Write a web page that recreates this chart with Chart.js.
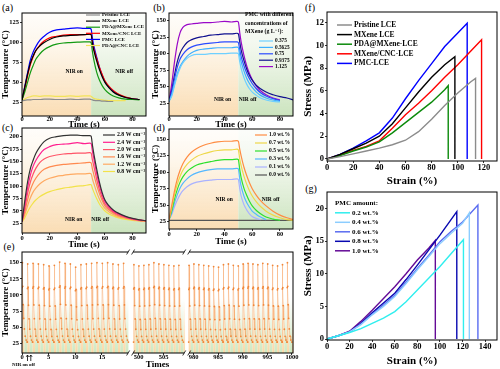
<!DOCTYPE html>
<html>
<head>
<meta charset="utf-8">
<script src="https://cdn.jsdelivr.net/npm/chart.js@4.4.0/dist/chart.umd.min.js"></script>
<style>
  body { margin: 0; background: #fff; width: 500px; height: 369px; position: relative; overflow: hidden; }
  canvas { position: absolute; }
  .pl { position: absolute; font: 10px "Liberation Serif", serif; color: #000; transform: translate(-50%, -50%); white-space: nowrap; }
</style>
</head>
<body>
<div class="pl" style="left:7.5px;top:6.5px">(a)</div>
<div class="pl" style="left:159px;top:6.5px">(b)</div>
<div class="pl" style="left:7.5px;top:127px">(c)</div>
<div class="pl" style="left:159px;top:127px">(d)</div>
<div class="pl" style="left:9px;top:246px">(e)</div>
<div class="pl" style="left:310px;top:7px">(f)</div>
<div class="pl" style="left:311px;top:188px">(g)</div>
<canvas id="cA"></canvas>
<canvas id="cB"></canvas>
<canvas id="cC"></canvas>
<canvas id="cD"></canvas>
<canvas id="cE"></canvas>
<canvas id="cF"></canvas>
<canvas id="cG"></canvas>
<script>
// ---- (a) temperature vs time, different films
var tA = [0, 2, 4, 6, 8, 10, 13, 16, 20, 25, 30, 35, 40, 45, 49, 50, 51, 52, 54, 56, 58, 60, 63, 66, 70, 75, 80, 85];
var aPristine = [27, 27.5, 28, 28, 28.5, 28.5, 28.5, 29, 29, 28.5, 28.5, 29, 28.5, 29, 29, 28.5, 28, 27.5, 27, 27, 26.5, 26.5, 26, 26];
var aMXene = [28, 44, 60, 74, 83, 90, 96, 100, 104, 107, 108.5, 109, 109.5, 110, 110.5, 110, 98, 90, 77, 66, 57, 50, 43, 38, 34, 31, 29.5, 28.5];
var aPdaMx = [28, 38, 50, 62, 71, 79, 86, 91, 95, 98, 99.5, 100, 100.5, 101, 101, 100, 88, 78, 63, 53, 46, 41, 36, 33, 30.5, 29, 28.5, 28];
var aMxCnc = [28, 42, 58, 72, 82, 90, 97, 102, 106, 108, 109.5, 110, 110, 110, 110.5, 110, 100, 92, 80, 69, 60, 52, 45, 40, 35, 31.5, 29.5, 28.5];
var aPMC = [28, 45, 62, 78, 88, 95, 103, 108, 113, 116, 117, 118, 118.5, 118, 118, 117, 105, 96, 82, 69, 59, 51, 44, 39, 34.5, 31, 29.5, 28.5];
var aPdaCnc = [27, 29, 31, 32, 33, 33, 32.5, 33, 33, 32.5, 32.5, 33, 32.5, 33, 33, 32.5, 31, 30, 29, 28.5, 28, 27.5, 27, 27, 27, 27];

// ---- (b) MXene concentration series
var tB = [0, 2, 4, 6, 8, 10, 13, 16, 20, 25, 30, 35, 40, 45, 49, 50, 51, 52, 54, 56, 58, 60, 63, 66, 70, 75, 80, 85, 90];
var b0375 = [28, 36, 52, 67, 78, 86, 93, 97, 99, 99, 100, 100, 100, 101, 101, 100, 88, 78, 64, 54, 47, 42, 37, 33, 30, 28, 27];
var b05625 = [28, 38, 55, 70, 81, 88, 96, 101, 105, 107, 108, 109, 109, 109, 110, 109, 97, 88, 74, 63, 55, 49, 42, 37, 33, 30, 28];
var b075 = [28, 42, 62, 80, 92, 99, 106, 110, 113, 115, 116, 117, 118, 118, 118, 117, 106, 96, 82, 71, 62, 55, 47, 41, 36, 32, 29];
var b09375 = [28, 45, 68, 88, 101, 109, 117, 121, 124, 126, 128, 129, 130, 130, 131, 130, 118, 106, 90, 77, 67, 60, 52, 47, 42, 38, 35, 33, 30];
var b1125 = [28, 55, 88, 115, 132, 140, 144, 145, 146, 147, 147, 148, 149, 148, 149, 148, 132, 118, 98, 82, 70, 61, 51, 44, 38, 33, 30];

// ---- (c) power density series
var tC = tB;
var c28 = [28, 70, 108, 135, 152, 166, 180, 190, 197, 200, 202, 203, 203, 202, 202, 201, 182, 165, 135, 108, 87, 72, 60, 52, 45, 39, 35, 32, 30];
var c24 = [28, 62, 96, 122, 140, 152, 165, 174, 180, 184, 185, 186, 188, 186, 187, 186, 170, 155, 126, 102, 83, 69, 58, 50, 44, 38, 34, 32, 30];
var c20 = [28, 55, 85, 108, 124, 136, 148, 155, 160, 163, 165, 166, 167, 167, 168, 167, 152, 140, 114, 93, 77, 64, 55, 48, 42, 37, 34, 31, 30];
var c16 = [28, 48, 72, 92, 106, 116, 127, 134, 139, 142, 144, 145, 146, 147, 148, 147, 134, 123, 102, 85, 71, 60, 52, 46, 40, 36, 33, 31, 30];
var c12 = [28, 42, 60, 76, 88, 96, 105, 111, 116, 120, 122, 124, 125, 125, 126, 125, 114, 105, 88, 74, 63, 55, 48, 43, 38, 35, 32, 30, 29];
var c08 = [28, 36, 48, 58, 66, 72, 79, 84, 89, 93, 96, 98, 100, 101, 103, 103, 95, 88, 75, 64, 56, 50, 44, 40, 36, 33, 31, 30, 29];

// ---- (d) PMC content series
var tD = tB;
var d10 = [28, 50, 72, 90, 103, 113, 123, 130, 136, 141, 144, 146, 147, 147, 148, 147, 135, 125, 108, 95, 84, 75, 65, 57, 49, 41, 35, 31, 28];
var d07 = [28, 46, 66, 82, 94, 103, 112, 118, 124, 128, 131, 133, 134, 134, 135, 134, 120, 110, 94, 82, 72, 64, 55, 48, 41, 35, 31, 28, 27];
var d05 = [28, 42, 60, 74, 85, 93, 101, 106, 111, 114, 116, 118, 119, 119, 120, 119, 104, 92, 76, 65, 56, 49, 42, 37, 32, 29, 27];
var d03 = [28, 39, 54, 66, 76, 83, 90, 95, 99, 102, 104, 105, 105, 105, 106, 105, 90, 79, 64, 54, 47, 41, 36, 32, 28];
var d01 = [28, 36, 48, 58, 66, 72, 78, 82, 85, 87, 88, 89, 89, 89, 90, 89, 75, 64, 51, 43, 37, 33, 30, 28];
var d00 = [27, 27, 27, 27, 27, 27, 27, 27, 27, 27, 27, 27, 27, 27, 27, 27, 27, 27, 27, 27, 27, 27, 27, 27, 27, 27, 27, 27, 27];

// ---- (e) cycling: peak temperature of every cycle, and one cycle's profile
var eSeg1First = 0;
var eSeg1Peaks = [150, 148, 149, 148, 147, 145, 146, 151, 149, 148, 143, 147, 148, 149, 150, 149, 150, 148, 147, 149];
var eSeg2First = 499;
var eSeg2Peaks = [147, 145, 146, 147, 150, 148, 147, 146, 145, 146];
var eSeg3First = 979;
var eSeg3Peaks = [146, 148, 147, 146, 145, 144, 143, 147, 148, 146, 145, 148, 149, 148, 147, 149, 148, 146, 145, 147, 150];
var cycleFrac = [0, 0.03, 0.07, 0.14, 0.22, 0.32, 0.45, 0.6, 0.78, 0.97];
var cycleShape = [27, 110, 148, 112, 84, 63, 47, 36, 30, 27];
var eTicks = [0, 5, 10, 15, 500, 505, 980, 985, 990, 995, 1000];

// ---- (f) stress-strain, different films
var fPristineX = [0, 10, 20, 30, 40, 50, 60, 70, 80, 90, 100, 110, 113.6, 113.6];
var fPristineY = [0, 0.2, 0.45, 0.7, 0.95, 1.25, 1.65, 2.4, 3.5, 4.7, 5.8, 6.8, 7.1, 0];
var fMXeneX = [0, 10, 20, 30, 40, 50, 60, 70, 80, 90, 97.8, 97.8];
var fMXeneY = [0, 0.4, 0.9, 1.4, 2.0, 3.1, 4.5, 5.9, 7.2, 8.3, 9.0, 0];
var fPdaMxX = [0, 10, 20, 30, 40, 50, 60, 70, 80, 90, 92.7, 92.7];
var fPdaMxY = [0, 0.3, 0.7, 1.05, 1.5, 2.3, 3.2, 4.1, 5.0, 6.1, 6.45, 0];
var fMxCncX = [0, 10, 20, 30, 40, 50, 60, 70, 80, 90, 100, 110, 118.2, 118.2];
var fMxCncY = [0, 0.35, 0.75, 1.1, 1.6, 2.7, 3.9, 4.9, 6.0, 7.2, 8.3, 9.5, 10.5, 0];
var fPMCX = [0, 10, 20, 30, 40, 50, 60, 70, 80, 90, 100, 107.2, 107.2];
var fPMCY = [0, 0.4, 0.95, 1.6, 2.3, 3.6, 5.3, 6.9, 8.4, 9.9, 11.1, 11.95, 0];

// ---- (g) stress-strain, PMC amount
var g02X = [0, 10, 20, 30, 40, 50, 60, 70, 80, 90, 100, 110, 120.8, 120.8];
var g02Y = [0, 0.5, 1.0, 1.6, 2.4, 3.2, 4.2, 5.7, 7.5, 9.3, 11.1, 13.1, 15.2, 0];
var g04X = [0, 10, 20, 30, 40, 50, 60, 70, 80, 90, 100, 110, 120, 126, 126];
var g04Y = [0, 0.5, 1.1, 2.2, 3.7, 5.0, 6.5, 8.5, 10.6, 12.6, 14.6, 16.2, 17.7, 19.3, 0];
var g06X = [0, 10, 20, 30, 40, 50, 60, 70, 80, 90, 100, 110, 120, 133.6, 133.6];
var g06Y = [0, 0.5, 1.1, 2.3, 3.8, 5.2, 6.7, 8.7, 10.8, 12.8, 14.9, 16.5, 17.9, 20.5, 0];
var g08X = [0, 10, 20, 30, 40, 50, 60, 70, 80, 90, 100, 114.9, 114.9];
var g08Y = [0, 0.5, 1.1, 2.4, 4.0, 5.5, 7.0, 9.1, 11.3, 13.6, 15.9, 19.5, 0];
var g10X = [0, 10, 20, 30, 40, 50, 60, 70, 80, 90, 95.9, 95.9];
var g10Y = [0, 0.5, 1.2, 2.7, 4.4, 6.2, 8.0, 10.0, 12.1, 13.9, 15.1, 0];

var tempTicks = [25, 50, 75, 100, 125, 150];
var timeTicks = [0, 20, 40, 60, 80];

var SERIF = '"Liberation Serif", "DejaVu Serif", serif';

function zip(xs, ys) {
  var out = [];
  for (var i = 0; i < ys.length && i < xs.length; i++) out.push({ x: xs[i], y: ys[i] });
  return out;
}

function curve(label, xs, ys, color, w, smooth) {
  return {
    label: label, data: zip(xs, ys), borderColor: color, borderWidth: w || 1,
    pointRadius: 0, fill: false, cubicInterpolationMode: smooth ? 'monotone' : 'default', tension: 0
  };
}

// cycles on the broken axis: each segment maps cycle number -> axis position
var eSegs = [
  { first: eSeg1First, peaks: eSeg1Peaks, c0: 0, c1: 19.97, cRef: 0, vRef: 0, k: 1.045 },
  { first: eSeg2First, peaks: eSeg2Peaks, c0: 498.8, c1: 509.3, cRef: 500, vRef: 22.86, k: 0.98 },
  { first: eSeg3First, peaks: eSeg3Peaks, c0: 978.9, c1: 1000.3, cRef: 980, vRef: 33.65, k: 0.9645 }
];
function segPos(s, c) { return s.vRef + (c - s.cRef) * s.k; }
function eTickPos(c) {
  for (var i = 0; i < eSegs.length; i++) if (c >= eSegs[i].c0 && c <= eSegs[i].c1) return segPos(eSegs[i], c);
  return 0;
}
function cycleSeries(s) {
  var pts = [];
  s.peaks.forEach(function (pk, n) {
    cycleFrac.forEach(function (f, j) {
      var c = s.first + n + f;
      if (c < s.c0 || c > s.c1) return;
      pts.push({ x: segPos(s, c), y: 27 + (cycleShape[j] - 27) * (pk - 27) / (148 - 27) });
    });
  });
  return pts;
}

// per-canvas decorations: backgrounds, frame, legends, notes
var deco = {};

function gradRect(ctx, x0, x1, top, bottom, stops) {
  var g = ctx.createLinearGradient(0, top, 0, bottom);
  stops.forEach(function (s) { g.addColorStop(s[0], s[1]); });
  ctx.fillStyle = g;
  ctx.fillRect(x0, top, x1 - x0, bottom - top);
}
var ORANGE = [[0, 'rgba(255,250,243,0.4)'], [0.5, 'rgba(252,236,212,0.8)'], [1, 'rgba(250,219,176,0.95)']];
var GREEN = [[0, 'rgba(246,250,243,0.4)'], [0.5, 'rgba(228,240,220,0.8)'], [1, 'rgba(200,226,186,0.95)']];

Chart.register({
  id: 'deco',
  beforeDatasetsDraw: function (chart) {
    var o = deco[chart.canvas.id];
    if (!o) return;
    var ctx = chart.ctx, a = chart.chartArea, xs = chart.scales.x, ys = chart.scales.y;
    ctx.save();
    if (o.nir) {
      var xm = xs.getPixelForValue(o.nir);
      gradRect(ctx, a.left, xm, a.top, a.bottom, ORANGE);
      gradRect(ctx, xm, a.right, a.top, a.bottom, GREEN);
    }
    if (o.cycles) {
      var top = ys.getPixelForValue(95);
      eSegs.forEach(function (s) {
        var lo = xs.getPixelForValue(segPos(s, s.c0)), hi = xs.getPixelForValue(segPos(s, s.c1));
        for (var c = Math.floor(s.c0); c < s.c1; c++) {
          var p0 = Math.max(lo, xs.getPixelForValue(segPos(s, c)));
          var p1 = Math.min(hi, xs.getPixelForValue(segPos(s, c + 0.45)));
          var p2 = Math.min(hi, xs.getPixelForValue(segPos(s, c + 1)));
          if (p1 > p0) gradRect(ctx, p0, p1, top, a.bottom, [[0, 'rgba(252,214,160,0)'], [1, 'rgba(250,208,150,0.85)']]);
          if (p2 > p1 && p1 >= lo) gradRect(ctx, p1, p2, top, a.bottom, [[0, 'rgba(205,232,192,0)'], [1, 'rgba(196,228,182,0.85)']]);
        }
      });
    }
    ctx.restore();
  },
  afterDraw: function (chart) {
    var o = deco[chart.canvas.id];
    if (!o) return;
    var ctx = chart.ctx, a = chart.chartArea, xs = chart.scales.x, ys = chart.scales.y;
    var ox = o.off[0], oy = o.off[1];
    ctx.save();
    ctx.strokeStyle = '#000';
    ctx.lineWidth = 1;
    ctx.strokeRect(a.left, a.top, a.right - a.left, a.bottom - a.top);
    if (o.breaks) {
      o.breaks.forEach(function (v) {
        var x = xs.getPixelForValue(v);
        [a.top, a.bottom].forEach(function (y) {
          ctx.fillStyle = '#fff';
          ctx.fillRect(x - 2.5, y - 1.5, 5, 3);
          ctx.beginPath();
          ctx.moveTo(x - 4, y + 2.5); ctx.lineTo(x - 1, y - 2.5);
          ctx.moveTo(x + 1, y + 2.5); ctx.lineTo(x + 4, y - 2.5);
          ctx.lineWidth = 0.8; ctx.stroke();
        });
      });
    }
    ctx.fillStyle = '#000';
    ctx.textBaseline = 'middle';
    if (o.notes) {
      o.notes.forEach(function (n) {
        ctx.font = 'bold ' + n.size + 'px ' + SERIF;
        ctx.textAlign = 'center';
        ctx.fillText(n.text, xs.getPixelForValue(n.x), ys.getPixelForValue(n.y));
      });
    }
    var lg = o.legend;
    if (lg) {
      ctx.textAlign = 'left';
      if (lg.title) {
        ctx.font = 'bold ' + lg.tsize + 'px ' + SERIF;
        lg.title.forEach(function (t, i) { ctx.fillText(t, lg.tx - ox, lg.ty + i * lg.tdy - oy); });
      }
      ctx.font = 'bold ' + lg.size + 'px ' + SERIF;
      chart.data.datasets.forEach(function (d, i) {
        var y = lg.y + i * lg.dy - oy;
        ctx.strokeStyle = d.borderColor;
        ctx.lineWidth = lg.lw;
        ctx.beginPath(); ctx.moveTo(lg.x - ox, y); ctx.lineTo(lg.x + lg.len - ox, y); ctx.stroke();
        ctx.fillText(d.label, lg.x + lg.len + 2 - ox, y);
      });
    }
    if (o.arrows) {
      ctx.strokeStyle = '#000'; ctx.lineWidth = 0.8;
      o.arrows.forEach(function (x) {
        var px = x - ox, y0 = 361 - oy, y1 = 355 - oy;
        ctx.beginPath();
        ctx.moveTo(px, y0); ctx.lineTo(px, y1);
        ctx.moveTo(px - 1.3, y1 + 1.8); ctx.lineTo(px, y1); ctx.lineTo(px + 1.3, y1 + 1.8);
        ctx.stroke();
      });
      ctx.font = 'bold 5px ' + SERIF;
      ctx.textAlign = 'center';
      ctx.fillText('NIR on off', 23.5 - ox, 364.5 - oy);
    }
    ctx.restore();
  }
});

// area = chart area in page pixels [left, top, right, bottom]; m = room for axes
function makeChart(id, area, m, cfg) {
  var cv = document.getElementById(id);
  var L = area[0] - m.yw, T = area[1] - m.pt;
  var W = area[2] - area[0] + m.yw + m.pr, H = area[3] - area[1] + m.pt + m.xh;
  cv.width = W; cv.height = H;
  cv.style.left = L + 'px'; cv.style.top = T + 'px';
  cv.style.width = W + 'px'; cv.style.height = H + 'px';
  cfg.deco.off = [L, T];
  deco[id] = cfg.deco;
  var tickFont = { family: SERIF, size: cfg.tickSize, weight: 'bold', lineHeight: 1 };
  var titleFont = { family: SERIF, size: cfg.titleSize, weight: 'bold', lineHeight: 1 };
  var grid = { drawOnChartArea: false, drawTicks: true, tickLength: 2, color: '#000', lineWidth: 0.8 };
  function axis(range, ticks, labels, title, side) {
    return {
      type: 'linear', min: range[0], max: range[1],
      afterFit: function (s) { if (side === 'x') s.height = m.xh; else s.width = m.yw; },
      afterBuildTicks: function (s) { s.ticks = ticks.map(function (v) { return { value: v }; }); },
      ticks: {
        autoSkip: false, maxRotation: 0, padding: side === 'x' ? m.xpad : 1, color: '#000', font: tickFont,
        callback: function (v, i) { return labels[i]; }
      },
      grid: grid,
      border: { display: false },
      title: { display: true, text: title, color: '#000', font: titleFont, padding: 0 }
    };
  }
  return new Chart(cv, {
    type: 'line',
    data: { datasets: cfg.datasets },
    options: {
      responsive: false, animation: false, devicePixelRatio: 1,
      layout: { padding: { left: 0, top: m.pt, right: m.pr, bottom: 0 } },
      plugins: { legend: { display: false }, tooltip: { enabled: false } },
      scales: {
        x: axis(cfg.x, cfg.xTicks, cfg.xLabels || cfg.xTicks.map(String), cfg.xTitle, 'x'),
        y: axis(cfg.y, cfg.yTicks, cfg.yTicks.map(String), cfg.yTitle, 'y')
      }
    }
  });
}

var TEMP = 'Temperature (\u00B0C)';

makeChart('cA', [22, 13, 146, 116], { yw: 21, pt: 8, pr: 8, xh: 13, xpad: -1.5 }, {
  x: [0, 89.7], xTicks: timeTicks, y: [7.8, 137.2], yTicks: [25, 50, 75, 100, 125],
  xTitle: 'Time (s)', yTitle: TEMP, tickSize: 6.5, titleSize: 9,
  datasets: [
    curve('Pristine LCE', tA, aPristine, '#8c8c8c', 1.2, true),
    curve('MXene LCE', tA, aMXene, '#000000', 1.2, true),
    curve('PDA@MXene LCE', tA, aPdaMx, '#139a13', 1.2, true),
    curve('MXene/CNC LCE', tA, aMxCnc, '#ff0000', 1.2, true),
    curve('PMC LCE', tA, aPMC, '#0000ff', 1.2, true),
    curve('PDA@CNC LCE', tA, aPdaCnc, '#f2e35a', 1.2, true)
  ],
  deco: {
    nir: 50,
    notes: [{ text: 'NIR on', x: 37.8, y: 63, size: 5.5 }, { text: 'NIR off', x: 73.9, y: 63, size: 5.5 }],
    legend: { x: 86, len: 14, y: 15, dy: 6.1, size: 5, lw: 1.2 }
  }
});

makeChart('cB', [169, 13, 293, 116], { yw: 18, pt: 8, pr: 8, xh: 13, xpad: -1.5 }, {
  x: [0, 89.4], xTicks: timeTicks, y: [5.8, 161.6], yTicks: tempTicks,
  xTitle: 'Time (s)', yTitle: TEMP, tickSize: 6.5, titleSize: 9,
  datasets: [
    curve('0.375', tB, b0375, '#6fd0ff', 1.2, true),
    curve('0.5625', tB, b05625, '#3fb0ff', 1.2, true),
    curve('0.75', tB, b075, '#2a4bff', 1.2, true),
    curve('0.9375', tB, b09375, '#10108f', 1.2, true),
    curve('1.125', tB, b1125, '#9a08c8', 1.2, true)
  ],
  deco: {
    nir: 50,
    notes: [{ text: 'NIR on', x: 38.6, y: 30, size: 5.5 }, { text: 'NIR off', x: 56.7, y: 30, size: 5.5 }],
    legend: {
      title: ['PMC with different', 'concentrations of', 'MXene (g L\u207B\u00B9):'], tx: 245, ty: 15, tdy: 8.3, tsize: 5.8,
      x: 259, len: 14, y: 41, dy: 6.4, size: 5.3, lw: 1.2
    }
  }
});

makeChart('cC', [22, 128, 146, 233], { yw: 21, pt: 8, pr: 8, xh: 16, xpad: 0 }, {
  x: [0, 89.7], xTicks: timeTicks, y: [5.4, 217.6], yTicks: [25, 50, 75, 100, 125, 150, 175, 200],
  xTitle: 'Time (s)', yTitle: TEMP, tickSize: 6.5, titleSize: 9,
  datasets: [
    curve('2.8 W cm\u207B\u00B2', tC, c28, '#333333', 1.2, true),
    curve('2.4 W cm\u207B\u00B2', tC, c24, '#ff1f8f', 1.2, true),
    curve('2.0 W cm\u207B\u00B2', tC, c20, '#ff5468', 1.2, true),
    curve('1.6 W cm\u207B\u00B2', tC, c16, '#ff8a50', 1.2, true),
    curve('1.2 W cm\u207B\u00B2', tC, c12, '#ffaa62', 1.2, true),
    curve('0.8 W cm\u207B\u00B2', tC, c08, '#f2e24a', 1.2, true)
  ],
  deco: {
    nir: 50,
    notes: [{ text: 'NIR on', x: 37.4, y: 31.7, size: 5.5 }, { text: 'NIR off', x: 56.5, y: 31.7, size: 5.5 }],
    legend: { x: 103, len: 12, y: 135, dy: 7.3, size: 5.8, lw: 1.2 }
  }
});

makeChart('cD', [169, 129, 293, 229], { yw: 18, pt: 8, pr: 8, xh: 17, xpad: 0 }, {
  x: [0, 89.4], xTicks: timeTicks, y: [13.9, 165.6], yTicks: tempTicks,
  xTitle: 'Time (s)', yTitle: TEMP, tickSize: 6.5, titleSize: 9,
  datasets: [
    curve('1.0 wt.%', tD, d10, '#ff8c42', 1.2, true),
    curve('0.7 wt.%', tD, d07, '#eed84a', 1.2, true),
    curve('0.5 wt.%', tD, d05, '#2ee02e', 1.2, true),
    curve('0.3 wt.%', tD, d03, '#55b8ff', 1.2, true),
    curve('0.1 wt.%', tD, d01, '#aab2ff', 1.2, true),
    curve('0.0 wt.%', tD, d00, '#555555', 1.2, true)
  ],
  deco: {
    nir: 50,
    notes: [{ text: 'NIR on', x: 39.7, y: 58, size: 5.5 }, { text: 'NIR off', x: 73.3, y: 58, size: 5.5 }],
    legend: { x: 255, len: 12, y: 135, dy: 8, size: 5.5, lw: 1.2 }
  }
});

var eSets = eSegs.map(function (s) {
  return {
    data: cycleSeries(s), borderColor: 'rgba(244,150,80,0.55)', borderWidth: 0.7,
    pointRadius: 0.9, pointBorderWidth: 0, pointBackgroundColor: '#f0873a', fill: false, tension: 0
  };
});
makeChart('cE', [22, 252, 293, 353], { yw: 21, pt: 8, pr: 8, xh: 16, xpad: -1 }, {
  x: [0, 53.14], xTicks: eTicks.map(eTickPos), xLabels: eTicks.map(String),
  y: [10, 166.6], yTicks: tempTicks,
  xTitle: 'Times', yTitle: TEMP, tickSize: 6.5, titleSize: 9,
  datasets: eSets,
  deco: { cycles: true, breaks: [21.3, 32.3], arrows: [27.5, 30.8] }
});

makeChart('cF', [327, 12, 497, 161], { yw: 24, pt: 8, pr: 8, xh: 26, xpad: 0.5 }, {
  x: [0, 130], xTicks: [0, 20, 40, 60, 80, 100, 120], y: [-0.18, 12.94], yTicks: [0, 2, 4, 6, 8, 10, 12],
  xTitle: 'Strain (%)', yTitle: 'Stress (MPa)', tickSize: 8.5, titleSize: 11,
  datasets: [
    curve('Pristine LCE', fPristineX, fPristineY, '#8c8c8c', 1.4),
    curve('MXene LCE', fMXeneX, fMXeneY, '#000000', 1.4),
    curve('PDA@MXene-LCE', fPdaMxX, fPdaMxY, '#0b8a0b', 1.4),
    curve('MXene/CNC-LCE', fMxCncX, fMxCncY, '#ff0000', 1.4),
    curve('PMC-LCE', fPMCX, fPMCY, '#0000ff', 1.4)
  ],
  deco: { legend: { x: 337, len: 15, y: 25, dy: 9.6, size: 7.5, lw: 1.5 } }
});

makeChart('cG', [327, 192, 497, 340], { yw: 24, pt: 8, pr: 8, xh: 27, xpad: 0.5 }, {
  x: [0, 150.5], xTicks: [0, 20, 40, 60, 80, 100, 120, 140], y: [-0.15, 22.5], yTicks: [0, 5, 10, 15, 20],
  xTitle: 'Strain (%)', yTitle: 'Stress (MPa)', tickSize: 8.5, titleSize: 11,
  datasets: [
    curve('0.2 wt.%', g02X, g02Y, '#30eeee', 1.4),
    curve('0.4 wt.%', g04X, g04Y, '#8ccdff', 1.4),
    curve('0.6 wt.%', g06X, g06Y, '#5a6cf0', 1.4),
    curve('0.8 wt.%', g08X, g08Y, '#0808b0', 1.4),
    curve('1.0 wt.%', g10X, g10Y, '#640a96', 1.4)
  ],
  deco: {
    legend: { title: ['PMC amount:'], tx: 335, ty: 203.5, tdy: 0, tsize: 7, x: 335, len: 15, y: 212.8, dy: 9.5, size: 7, lw: 1.5 }
  }
});
</script>
</body>
</html>
